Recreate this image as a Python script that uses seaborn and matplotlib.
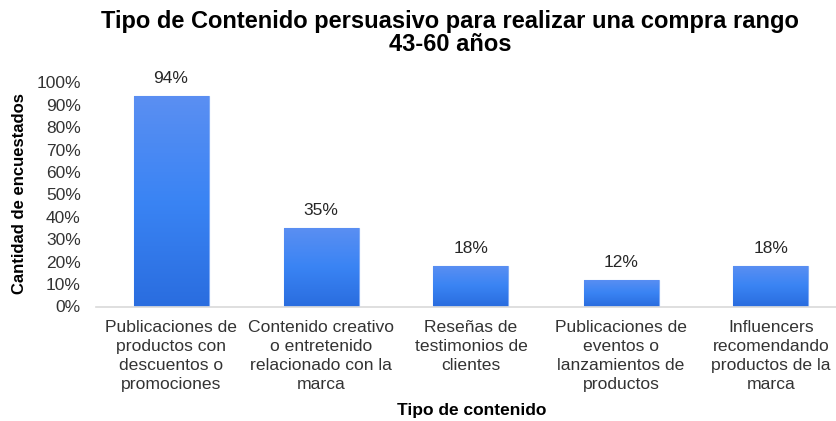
import numpy as np
import pandas as pd
import matplotlib
matplotlib.use("Agg")
import matplotlib.pyplot as plt
from matplotlib.colors import LinearSegmentedColormap
import seaborn as sns

categorias = [
    "Publicaciones de\nproductos con\ndescuentos o\npromociones",
    "Contenido creativo\no entretenido\nrelacionado con la\nmarca",
    "Reseñas de\ntestimonios de\nclientes",
    "Publicaciones de\neventos o\nlanzamientos de\nproductos",
    "Influencers\nrecomendando\nproductos de la\nmarca",
]
porcentajes = [0.94, 0.35, 0.18, 0.12, 0.18]
ticks_y = [0, 0.1, 0.2, 0.3, 0.4, 0.5, 0.6, 0.7, 0.8, 0.9, 1.0]

df = pd.DataFrame({"categoria": categorias, "porcentaje": porcentajes})

sns.set_theme(style="white")
plt.rcParams["font.family"] = ["Liberation Sans", "DejaVu Sans"]

fig = plt.figure(figsize=(8.36, 4.21), dpi=100)
ax = fig.add_axes([96 / 836, 1 - 306.5 / 421, 750 / 836, 224 / 421])

sns.barplot(data=df, x="categoria", y="porcentaje", color="#3B86F5",
            width=0.5, ax=ax, edgecolor="#7FAAF5", linewidth=0.8)

# vertical gradient fill for each bar
grad = LinearSegmentedColormap.from_list(
    "azul", ["#2A6DDF", "#3A84F4", "#5B8FF2"])
gradiente = np.linspace(0, 1, 256).reshape(-1, 1)
for barra in ax.patches:
    x0, y0 = barra.get_x(), barra.get_y()
    w, h = barra.get_width(), barra.get_height()
    img = ax.imshow(gradiente, cmap=grad, origin="lower", aspect="auto",
                    extent=(x0, x0 + w, y0, y0 + h), zorder=barra.get_zorder() + 0.1)
    img.set_clip_path(barra)

for barra, v in zip(ax.patches, porcentajes):
    ax.annotate(f"{v:.0%}", (barra.get_x() + barra.get_width() / 2, v),
                xytext=(0, 7), textcoords="offset points",
                ha="center", va="bottom", fontsize=12.5, color="#262626")

ax.set_xlim(-0.5, 4.5)
ax.set_ylim(0, 1.0)
ax.set_yticks(ticks_y)
ax.set_yticklabels([f"{t:.0%}" for t in ticks_y], fontsize=12.5, color="#333333")
ax.tick_params(axis="x", labelsize=12.6, labelcolor="#333333", pad=4)
ax.tick_params(axis="y", pad=11, length=0)
for lbl in ax.get_xticklabels():
    lbl.set_linespacing(1.32)
for s in ["top", "right", "left"]:
    ax.spines[s].set_visible(False)
ax.spines["bottom"].set_color("#D9D9D9")
ax.spines["bottom"].set_linewidth(1.2)
ax.grid(False)

ax.set_xlabel("")
ax.set_ylabel("")
fig.text(472 / 836, 1 - 411 / 421, "Tipo de contenido", ha="center", va="center",
         fontsize=12.5, fontweight="bold", color="#000000")
fig.text(20 / 836, 1 - 194 / 421, "Cantidad de encuestados", ha="center", va="center",
         rotation=90, fontsize=12, fontweight="bold", color="#000000")

fig.text(450 / 836, 1 - 33 / 421,
         "Tipo de Contenido persuasivo para realizar una compra rango\n43-60 años",
         ha="center", va="center", fontsize=17, fontweight="bold",
         color="#000000", linespacing=1.0)

fig.savefig("out.png", dpi=100)
